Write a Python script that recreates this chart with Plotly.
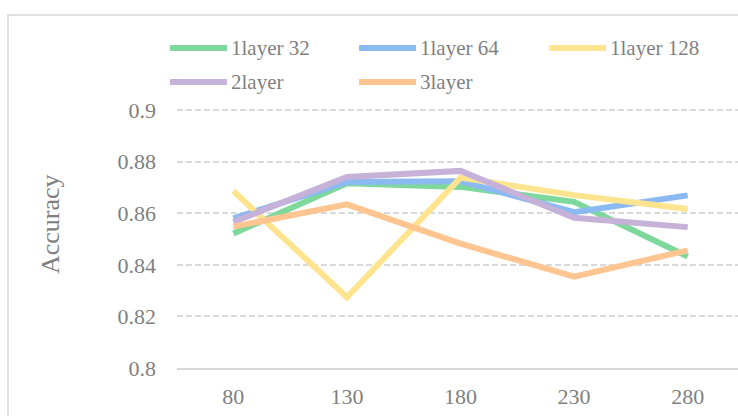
import plotly.graph_objects as go

# Hidden units on the x axis
categories = ["80", "130", "180", "230", "280"]

# Accuracy per configuration
series_names = ["1layer 32", "1layer 64", "1layer 128", "2layer", "3layer"]
acc_1layer_32 = [0.8521, 0.8716, 0.8702, 0.8644, 0.8432]
acc_1layer_64 = [0.8580, 0.8721, 0.8724, 0.8604, 0.8669]
acc_1layer_128 = [0.8686, 0.8274, 0.8738, 0.8670, 0.8616]
acc_2layer = [0.8566, 0.8740, 0.8764, 0.8582, 0.8546]
acc_3layer = [0.8548, 0.8634, 0.8482, 0.8354, 0.8456]

y_ticks = [0.8, 0.82, 0.84, 0.86, 0.88, 0.9]
y_tick_text = ["0.8", "0.82", "0.84", "0.86", "0.88", "0.9"]

colors = ["#7fd89b", "#8bbaf2", "#fee48e", "#c6b1d8", "#ffc591"]
values = [acc_1layer_32, acc_1layer_64, acc_1layer_128, acc_2layer, acc_3layer]

FONT = "Liberation Serif, Times New Roman, serif"
TEXT = "#7f7f7f"
GRID = "#d9d9d9"

W, H = 738, 416
L, R, T, B = 177, 0, 108, 48
pw, ph = W - L - R, H - T - B
# a little headroom above 0.9 so its gridline is not clipped
Y_TOP = 0.9 + 0.1 * (2 / 258)


def px_x(x):
    return (x - L) / pw


def px_y(y):
    return (H - B - y) / ph


fig = go.Figure()
for name, vals, col in zip(series_names, values, colors):
    fig.add_trace(go.Scatter(
        x=categories, y=vals, name=name, mode="lines",
        line=dict(color=col, width=6), showlegend=False,
    ))

shapes = [
    # chart frame
    dict(type="rect", xref="paper", yref="paper",
         x0=px_x(8), x1=px_x(760), y0=px_y(440), y1=px_y(15),
         line=dict(color=GRID, width=1.5), fillcolor="rgba(0,0,0,0)", layer="below"),
]
annotations = []

# legend: two rows, three columns
legend_pos = [(170, 48), (359, 48), (549, 48), (170, 82), (359, 82)]
for (lx, ly), name, col in zip(legend_pos, series_names, colors):
    shapes.append(dict(type="line", xref="paper", yref="paper",
                       x0=px_x(lx), x1=px_x(lx + 57), y0=px_y(ly), y1=px_y(ly),
                       line=dict(color=col, width=6)))
    annotations.append(dict(xref="paper", yref="paper", x=px_x(lx + 59), y=px_y(ly),
                            xanchor="left", yanchor="middle", showarrow=False,
                            text=name, font=dict(family=FONT, size=21, color=TEXT)))

annotations.append(dict(xref="paper", yref="paper", x=px_x(50), y=px_y(224),
                        xanchor="center", yanchor="middle", showarrow=False,
                        textangle=-90, text="Accuracy",
                        font=dict(family=FONT, size=26, color=TEXT)))

fig.update_layout(
    width=W, height=H,
    margin=dict(l=L, r=R, t=T, b=B, pad=0),
    paper_bgcolor="white", plot_bgcolor="white",
    font=dict(family=FONT, color=TEXT),
    shapes=shapes, annotations=annotations,
    showlegend=False,
)
fig.update_xaxes(
    type="category", range=[-0.496, 4.443],
    showgrid=False, showline=True, linecolor=GRID, linewidth=1.5,
    ticks="", tickfont=dict(family=FONT, size=22, color=TEXT),
    ticklabelstandoff=8, zeroline=False,
)
fig.update_yaxes(
    range=[0.8, Y_TOP], tickvals=y_ticks, ticktext=y_tick_text,
    showgrid=True, gridcolor=GRID, gridwidth=1.5, griddash="6px,3px",
    showline=False, zeroline=False, ticks="",
    tickfont=dict(family=FONT, size=22, color=TEXT), ticklabelstandoff=20,
)

fig.write_html("out.html")
